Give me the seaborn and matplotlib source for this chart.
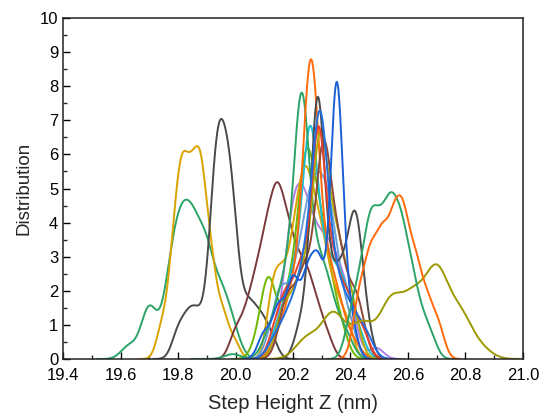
import numpy as np
import matplotlib
matplotlib.use("Agg")
import matplotlib.pyplot as plt
from matplotlib.ticker import MultipleLocator, FormatStrFormatter
import seaborn as sns

# ---------------- data: measured step heights (nm) and their counts ----------------
green_left_vals = [19.63, 19.70, 19.775, 19.815, 19.855, 19.90, 19.95, 19.99]
green_left_counts = [5, 20, 28, 38, 36, 34, 20, 10]

gold_left_vals = [19.745, 19.785, 19.815, 19.848, 19.88, 19.915, 19.955, 19.995]
gold_left_counts = [9, 26, 42, 38, 44, 24, 12, 5]

gray_left_vals = [19.80, 19.835, 19.865, 19.895, 19.925, 19.945, 19.965, 19.99,
                  20.025, 20.055, 20.09, 20.125]
gray_left_counts = [4, 5, 5, 3, 17, 15, 15, 17, 5, 6, 5, 3]

brown_vals = [20.00, 20.04, 20.075, 20.11, 20.145, 20.18, 20.215, 20.25, 20.285, 20.32]
brown_counts = [4, 6, 10, 15, 20, 15, 11, 10, 6, 3]

purple_vals = [20.165, 20.20, 20.235, 20.27, 20.305, 20.34, 20.375, 20.41, 20.49]
purple_counts = [7, 19, 19, 14, 13, 12, 9, 5, 2]

lime_vals = [20.08, 20.115, 20.155, 20.19, 20.235, 20.265, 20.30, 20.335, 20.37]
lime_counts = [3, 13, 3, 10, 24, 19, 16, 8, 4]

gold_mid_vals = [20.13, 20.165, 20.205, 20.24, 20.275, 20.31, 20.35, 20.39]
gold_mid_counts = [10, 10, 15, 22, 17, 13, 8, 5]

lightblue_vals = [20.12, 20.155, 20.19, 20.22, 20.255, 20.29, 20.325, 20.36, 20.40]
lightblue_counts = [3, 9, 6, 11, 18, 20, 18, 10, 5]

cyan_vals = [20.15, 20.20, 20.26, 20.32, 20.37, 20.42]
cyan_counts = [6, 14, 45, 16, 13, 6]

green_mid_vals = [19.99, 20.12, 20.17, 20.23, 20.29, 20.33, 20.38]
green_mid_counts = [1, 5, 13, 52, 15, 9, 5]

orange_mid_vals = [20.15, 20.20, 20.262, 20.32, 20.36, 20.41]
orange_mid_counts = [4, 12, 59, 14, 8, 3]

olive2_vals = [20.17, 20.23, 20.294, 20.35, 20.40]
olive2_counts = [10, 15, 42, 20, 11]

brown2_vals = [20.18, 20.24, 20.305, 20.36, 20.42]
brown2_counts = [12, 16, 41, 19, 12]

gray_mid_vals = [20.23, 20.285, 20.33, 20.37, 20.415, 20.45]
gray_mid_counts = [6, 44, 10, 12, 22, 6]

red_vals = [20.14, 20.18, 20.23, 20.288, 20.34, 20.39, 20.44]
red_counts = [5, 10, 15, 40, 15, 10, 5]

blue_vals = [20.14, 20.19, 20.24, 20.294, 20.35, 20.40, 20.45]
blue_counts = [4, 8, 15, 47, 13, 8, 5]

blue_tall_vals = [20.10, 20.15, 20.20, 20.25, 20.29, 20.352, 20.40]
blue_tall_counts = [4, 8, 12, 12, 14, 44, 6]

olive_vals = [20.25, 20.34, 20.44, 20.54, 20.62, 20.70, 20.78, 20.85]
olive_counts = [6, 13, 10, 16, 16, 24, 12, 3]

green_right_vals = [20.40, 20.435, 20.47, 20.505, 20.54, 20.575, 20.61, 20.645, 20.68]
green_right_counts = [5, 9, 16, 14, 17, 15, 10, 5, 3]

orange_right_vals = [20.43, 20.47, 20.51, 20.55, 20.585, 20.625, 20.665, 20.705]
orange_right_counts = [9, 14, 16, 17, 18, 13, 8, 5]

# kernel bandwidth of each sample (nm)
bandwidths = [0.028, 0.020, 0.022, 0.022, 0.025, 0.025, 0.022, 0.022, 0.028,
              0.028, 0.028, 0.028, 0.028, 0.024, 0.025, 0.028, 0.022, 0.040,
              0.022, 0.022]

samples = [
    (green_left_vals, green_left_counts),
    (gold_left_vals, gold_left_counts),
    (gray_left_vals, gray_left_counts),
    (brown_vals, brown_counts),
    (purple_vals, purple_counts),
    (lime_vals, lime_counts),
    (gold_mid_vals, gold_mid_counts),
    (lightblue_vals, lightblue_counts),
    (cyan_vals, cyan_counts),
    (green_mid_vals, green_mid_counts),
    (orange_mid_vals, orange_mid_counts),
    (olive2_vals, olive2_counts),
    (brown2_vals, brown2_counts),
    (gray_mid_vals, gray_mid_counts),
    (red_vals, red_counts),
    (blue_vals, blue_counts),
    (blue_tall_vals, blue_tall_counts),
    (olive_vals, olive_counts),
    (green_right_vals, green_right_counts),
    (orange_right_vals, orange_right_counts),
]

colors = ["#2ca468", "#d9a300", "#4a4a4a", "#7b3b3b", "#b07ee8", "#6cb800",
          "#d9a300", "#6c9fd6", "#1bbdd0", "#2ca468", "#ff6a0a", "#b0ac00",
          "#8c4a3a", "#4a4a4a", "#e8402e", "#1f6fe0", "#1a5fd8", "#9c9a00",
          "#2ca468", "#ff6a0a"]

# ---------------- figure ----------------
sns.set_style("ticks")
plt.rcParams["font.family"] = ["Liberation Sans", "DejaVu Sans"]

fig = plt.figure(figsize=(5.49, 4.17), dpi=100)
ax = fig.add_axes([0.1148, 0.1391, 0.8378, 0.8177])

for (vals, cnts), h, col in zip(samples, bandwidths, colors):
    v = np.asarray(vals, float)
    w = np.asarray(cnts, float)
    factor = h / np.sqrt(np.cov(v, aweights=w))
    sns.kdeplot(x=v, weights=w, bw_method=factor, gridsize=400,
                color=col, linewidth=1.4, ax=ax)

ax.set_xlim(19.4, 21.0)
ax.set_ylim(0, 10)
ax.xaxis.set_major_locator(MultipleLocator(0.2))
ax.xaxis.set_minor_locator(MultipleLocator(0.1))
ax.yaxis.set_major_locator(MultipleLocator(1))
ax.yaxis.set_minor_locator(MultipleLocator(0.5))
ax.xaxis.set_major_formatter(FormatStrFormatter("%.1f"))

ax.tick_params(which="major", direction="in", length=5, width=1.0,
               labelsize=12, colors="black")
ax.tick_params(which="minor", direction="in", length=3, width=1.0)
ax.tick_params(axis="x", which="major", pad=6.5)
ax.tick_params(axis="y", which="major", pad=3.5)

for side in ["left", "bottom", "top", "right"]:
    ax.spines[side].set_visible(True)
    ax.spines[side].set_linewidth(1.1)
    ax.spines[side].set_color("#222222")

ax.set_xlabel("Step Height Z (nm)", fontsize=14.5, labelpad=8)
ax.set_ylabel("Distribution", fontsize=13.5, labelpad=5)

fig.savefig("out.png", dpi=100)
